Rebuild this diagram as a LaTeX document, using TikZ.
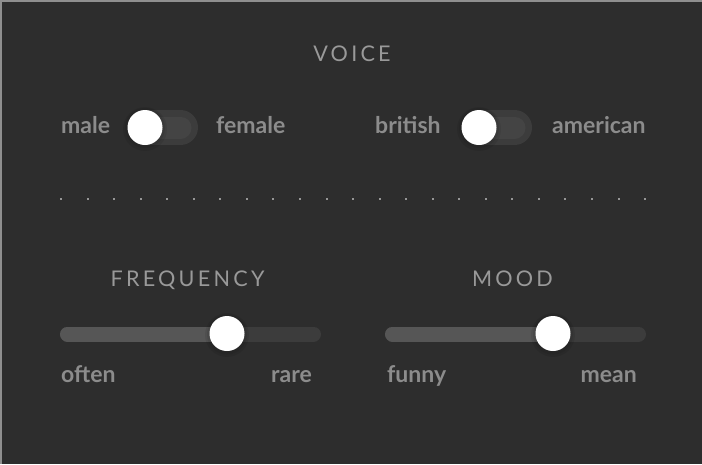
\documentclass[tikz,border=0pt]{standalone}
\usepackage{fontspec}
\setmainfont{Lato}
\newfontfamily\headfont[LetterSpace=15]{Lato}
\definecolor{panel}{HTML}{2D2D2D}
\definecolor{rim}{HTML}{8F8F8F}
\definecolor{labeltext}{HTML}{8C8C8C}
\definecolor{headtext}{HTML}{999999}
\definecolor{trackdark}{HTML}{3C3C3C}
\definecolor{trackglow}{HTML}{474747}
\definecolor{tracklight}{HTML}{565656}
\definecolor{dotgrey}{HTML}{969696}
\tikzset{
  choice/.style={inner sep=0pt, text=labeltext, font=\fontsize{23}{26}\selectfont\bfseries},
  heading/.style={inner sep=0pt, text=headtext, font=\headfont\fontsize{21.6}{25}\selectfont},
  knob/.style={circle, fill=white, minimum size=35pt, inner sep=0pt},
  halo/.style={circle, fill=black, inner sep=0pt, opacity=.07},
  switchtrack/.style={trackdark, line width=35pt, line cap=round},
  switchglow/.style={trackglow, line width=22pt, line cap=round, opacity=.8},
  slidertrack/.style={line width=15pt, line cap=round},
}
\begin{document}
\begin{tikzpicture}[x=1pt,y=-1pt]
  \useasboundingbox (0,0) rectangle (702,464);
  \fill[panel] (0,0) rectangle (702,464);
  \draw[rim, line width=1.5pt] (0.75,464) -- (0.75,0.75) -- (702,0.75);
  % voice switches
  \node[heading, anchor=base] (voice) at (352,61) {VOICE};
  \node[choice, anchor=base west] (male) at (61,133) {male};
  \node[choice, anchor=base west] (female) at (216,133) {female};
  \node[choice, anchor=base west] (british) at (375,133) {british};
  \node[choice, anchor=base west] (american) at (552,133) {american};
  \coordinate (swA) at (180.5,127.5);
  \coordinate (swB) at (514.5,127.5);
  \draw[switchtrack] (145,127.5) -- (swA);
  \draw[switchglow] (150,127.5) -- (swA);
  \draw[switchtrack] (479,127.5) -- (swB);
  \draw[switchglow] (484,127.5) -- (swB);
  \node[halo, minimum size=44pt] at (145,129) {};
  \node[halo, minimum size=40pt] at (145,128) {};
  \node[knob] (switchA) at (145,127.5) {};
  \node[halo, minimum size=44pt] at (479,129) {};
  \node[halo, minimum size=40pt] at (479,128) {};
  \node[knob] (switchB) at (479,127.5) {};
  % divider
  \foreach \i in {0,...,22}
    \fill[dotgrey] ({60+\i*26.55},198) rectangle +(2,2);
  % sliders
  \node[heading, anchor=base] (freq) at (187.5,286) {FREQUENCY};
  \node[heading, anchor=base] (mood) at (512.5,286) {MOOD};
  \coordinate (freqEnd) at (313.5,334);
  \coordinate (moodEnd) at (638.5,334);
  \draw[slidertrack, trackdark] (67.5,334) -- (freqEnd);
  \draw[slidertrack, tracklight] (67.5,334) -- (227,334);
  \draw[slidertrack, trackdark] (392.5,334) -- (moodEnd);
  \draw[slidertrack, tracklight] (392.5,334) -- (553,334);
  \node[halo, minimum size=44pt] at (227,335) {};
  \node[halo, minimum size=40pt] at (227,334.5) {};
  \node[knob] (freqKnob) at (227,333.5) {};
  \node[halo, minimum size=44pt] at (553,335) {};
  \node[halo, minimum size=40pt] at (553,334.5) {};
  \node[knob] (moodKnob) at (553,333.5) {};
  \node[choice, anchor=base west] (often) at (61,382) {often};
  \node[choice, anchor=base east] (rare) at (312,382) {rare};
  \node[choice, anchor=base west] (funny) at (387,382) {funny};
  \node[choice, anchor=base east] (mean) at (637,382) {mean};
\end{tikzpicture}
\end{document}
